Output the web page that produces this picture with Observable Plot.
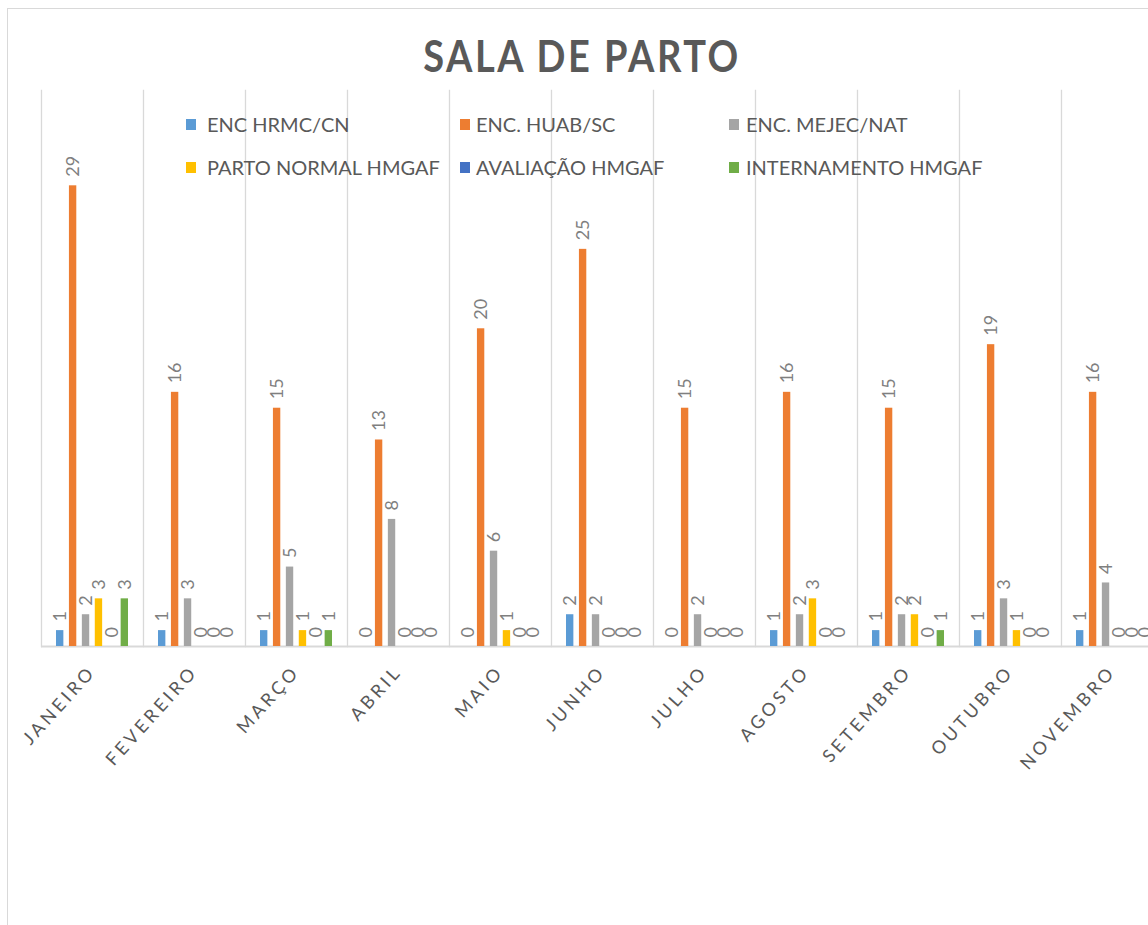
<!DOCTYPE html>
<html>
<head>
<meta charset="utf-8">
<script src="https://cdn.jsdelivr.net/npm/d3@7"></script>
<script src="https://cdn.jsdelivr.net/npm/@observablehq/plot@0.6"></script>
<style>
  html, body { margin: 0; padding: 0; background: #fff; overflow: hidden; }
  #page { position: relative; width: 1148px; height: 925px; overflow: hidden; font-family: Lato, "Open Sans", sans-serif; }
  #border { position: absolute; left: 7px; top: 8px; width: 1200px; height: 1000px; border-left: 1.5px solid #d9d9d9; border-top: 1.5px solid #d9d9d9; }
  #chart { position: absolute; left: 0; top: 0; width: 1163px; }
  #chart svg { max-width: none !important; }
  #title { position: absolute; left: 0; width: 1164px; top: 32px; text-align: center; font-size: 38px; font-weight: 700; letter-spacing: 2.5px; color: #595959; transform: scaleY(1.15); }
  .leg { position: absolute; font-size: 20px; color: #595959; white-space: nowrap; line-height: 24px; }
  .sw { position: absolute; width: 10px; height: 11px; }
  svg g[aria-label^="fx-axis"] text { letter-spacing: 3.5px; }
</style>
</head>
<body>
<div id="page">
  <div id="border"></div>
  <div id="chart"></div>
  <div id="title">SALA DE PARTO</div>
  <div id="legend"></div>
</div>
<script>
const months = ["JANEIRO","FEVEREIRO","MARÇO","ABRIL","MAIO","JUNHO","JULHO","AGOSTO","SETEMBRO","OUTUBRO","NOVEMBRO"];
const seriesNames = ["ENC HRMC/CN","ENC. HUAB/SC","ENC. MEJEC/NAT","PARTO NORMAL HMGAF","AVALIAÇÃO HMGAF","INTERNAMENTO HMGAF"];
const seriesColors = ["#5B9BD5","#ED7D31","#A5A5A5","#FFC000","#4472C4","#70AD47"];

const encHRMC      = [1, 1, 1, 0, 0, 2, 0, 1, 1, 1, 1];
const encHUAB      = [29, 16, 15, 13, 20, 25, 15, 16, 15, 19, 16];
const encMEJEC     = [2, 3, 5, 8, 6, 2, 2, 2, 2, 3, 4];
const partoNormal  = [3, 0, 1, 0, 1, 0, 0, 3, 2, 1, 0];
const avaliacao    = [0, 0, 0, 0, 0, 0, 0, 0, 0, 0, 0];
const internamento = [3, 0, 1, 0, 0, 0, 0, 0, 1, 0, 0];

const seriesValues = [encHRMC, encHUAB, encMEJEC, partoNormal, avaliacao, internamento];

const data = [];
months.forEach((m, i) => {
  seriesNames.forEach((s, j) => {
    data.push({month: m, series: s, value: seriesValues[j][i]});
  });
});

const chart = Plot.plot({
  width: 1163,
  height: 925,
  marginLeft: 41,
  marginRight: 0,
  marginTop: 90,
  marginBottom: 279,
  style: {fontFamily: "Lato, 'Open Sans', sans-serif", background: "transparent", maxWidth: "none"},
  fx: {domain: months, padding: 0, round: false, label: null},
  x: {domain: seriesNames, paddingInner: 0.43, paddingOuter: 1.16, round: false, axis: null},
  y: {domain: [0, 35], axis: null},
  color: {domain: seriesNames, range: seriesColors},
  marks: [
    Plot.frame({anchor: "left", stroke: "#d9d9d9", strokeWidth: 1.3}),
    Plot.ruleY([0], {stroke: "#d9d9d9", strokeWidth: 2}),
    Plot.barY(data, {fx: "month", x: "series", y: "value", fill: "series"}),
    Plot.text(data, {fx: "month", x: "series", y: "value", text: d => String(d.value),
      rotate: -90, textAnchor: "start", lineAnchor: "middle", dy: -9,
      fill: "#7f7f7f", fontSize: 18}),
    Plot.axisFx({anchor: "bottom", tickRotate: -48, tickSize: 0, tickPadding: 22,
      fontSize: 18, fill: "#595959", label: null})
  ]
});
document.getElementById("chart").appendChild(chart);

// legend
const legendPos = [
  {sx: 186, tx: 207, y: 124}, {sx: 460, tx: 476, y: 124}, {sx: 729, tx: 746, y: 124},
  {sx: 186, tx: 207, y: 167}, {sx: 460, tx: 476, y: 167}, {sx: 729, tx: 746, y: 167}
];
const legend = document.getElementById("legend");
seriesNames.forEach((s, i) => {
  const p = legendPos[i];
  const sw = document.createElement("div");
  sw.className = "sw";
  sw.style.left = p.sx + "px";
  sw.style.top = (p.y - 5) + "px";
  sw.style.background = seriesColors[i];
  legend.appendChild(sw);
  const t = document.createElement("div");
  t.className = "leg";
  t.style.left = p.tx + "px";
  t.style.top = (p.y - 12) + "px";
  t.textContent = s;
  legend.appendChild(t);
});
</script>
</body>
</html>
